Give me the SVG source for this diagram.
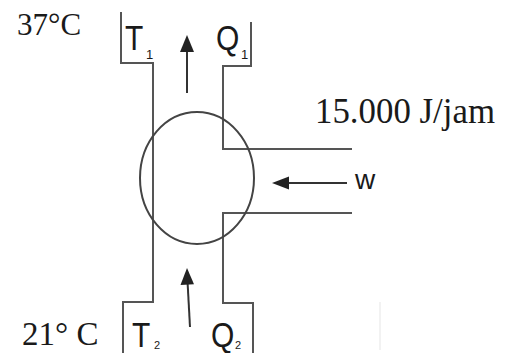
<svg xmlns="http://www.w3.org/2000/svg" width="505" height="353" viewBox="0 0 505 353">
<style>
.ln{fill:none;stroke:#555;stroke-width:2}
.ar{stroke:#333;stroke-width:2;fill:none}
.hd{fill:#222}
.serif{font-family:"Liberation Serif","Times New Roman",serif;fill:#1a1a1a}
.sans{font-family:"Liberation Sans",Arial,sans-serif;fill:#1a1a1a}
</style>
<rect width="505" height="353" fill="#fff"/>
<g id="connectors">
<path class="ln" d="M121,12 V63 H153 V302 H123 V353"/>
<path class="ln" d="M251,22 V66 H223 V149 H352"/>
<path class="ln" d="M352,213 H223 V303 H253 V353"/>
<line x1="380" y1="302" x2="380" y2="350" stroke="#eee" stroke-width="1.5"/>
<line class="ar" x1="187" y1="93" x2="187" y2="50"/>
<polygon class="hd" points="187,35 180,52 194,52"/>
<line class="ar" x1="190" y1="327" x2="187.6" y2="283"/>
<polygon class="hd" points="187,268 180.5,285 194,284.3"/>
<line class="ar" x1="347" y1="183" x2="286" y2="183"/>
<polygon class="hd" points="272,183 289,176.5 289,189.5"/>
</g>
<g id="engine">
<ellipse cx="197" cy="178" rx="57" ry="66" fill="none" stroke="#444" stroke-width="2"/>
</g>
<g id="hot">
<text class="serif" x="17" y="35" font-size="31">37°C</text>
<text class="sans" font-size="30" transform="translate(125,50) scale(1,1.15)">T</text>
<text class="sans" x="146" y="59" font-size="13">1</text>
<text class="sans" font-size="30" transform="translate(216,50) scale(1,1.15)">Q</text>
<text class="sans" x="241" y="59" font-size="13">1</text>
</g>
<g id="cold">
<text class="serif" x="22" y="345" font-size="33">21° C</text>
<text class="sans" font-size="30" transform="translate(132,347) scale(1,1.15)">T</text>
<text class="sans" x="154" y="349" font-size="11">2</text>
<text class="sans" font-size="30" transform="translate(211,347) scale(1,1.15)">Q</text>
<text class="sans" x="235" y="349" font-size="11">2</text>
</g>
<g id="work">
<text class="serif" x="315" y="123" font-size="35" textLength="180" lengthAdjust="spacingAndGlyphs">15.000 J/jam</text>
<text class="sans" x="355" y="189" font-size="28">w</text>
</g>
</svg>
